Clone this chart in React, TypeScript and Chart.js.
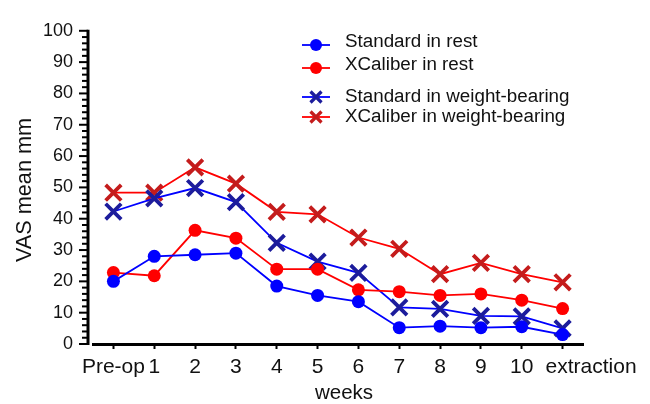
import React, { useEffect, useRef } from 'react';
import { Chart, registerables } from 'chart.js';

Chart.register(...registerables);

const categories = ['Pre-op', '1', '2', '3', '4', '5', '6', '7', '8', '9', '10', 'extraction'];
const standardRest = [20, 28, 28.5, 29, 18.5, 15.5, 13.5, 5.2, 5.7, 5.2, 5.5, 3.0];
const xcaliberRest = [22.8, 21.8, 36.3, 33.8, 23.9, 23.9, 17.3, 16.7, 15.5, 16.0, 14.0, 11.3];
const standardWeight = [42.3, 46.5, 49.8, 45.3, 32.3, 26.3, 22.7, 11.7, 11.2, 9.0, 8.8, 5.0];
const xcaliberWeight = [48.3, 48.3, 56.4, 51.2, 42.2, 41.4, 34.0, 30.4, 22.3, 25.9, 22.3, 19.7];
const seriesLabels = [
  'Standard in rest',
  'XCaliber in rest',
  'Standard in weight-bearing',
  'XCaliber in weight-bearing',
];
const yMin = 0;
const yMax = 100;
const yMajorStep = 10;
const yMinorStep = 2;
const xTitle = 'weeks';
const yTitle = 'VAS mean mm';

const FONT = '"Liberation Sans", Arial, Helvetica, sans-serif';

const axisPlugin = {
  id: 'customAxes',
  afterDraw(chart: any) {
    const ctx = chart.ctx;
    const y = chart.scales.y;
    const x = chart.scales.x;
    const area = chart.chartArea;
    const xLine = area.left - 5;
    ctx.save();
    ctx.strokeStyle = '#000';
    ctx.lineWidth = 3;
    ctx.beginPath();
    ctx.moveTo(xLine, y.getPixelForValue(yMax) - 1);
    ctx.lineTo(xLine, y.getPixelForValue(yMin) + 1);
    ctx.stroke();
    ctx.lineWidth = 2;
    for (let v = yMin; v <= yMax; v += yMinorStep) {
      const py = y.getPixelForValue(v);
      const len = v % yMajorStep === 0 ? 9 : 6;
      ctx.beginPath();
      ctx.moveTo(xLine - len, py);
      ctx.lineTo(xLine, py);
      ctx.stroke();
    }
    ctx.fillStyle = '#111';
    // x tick labels
    ctx.font = `21px ${FONT}`;
    ctx.textBaseline = 'alphabetic';
    const labels = x.getLabels();
    labels.forEach((lab: string, i: number) => {
      const px = x.getPixelForTick(i);
      if (i === labels.length - 1 && labels.length > 1) {
        ctx.textAlign = 'left';
        ctx.fillText(lab, px - 17, 373);
      } else {
        ctx.textAlign = 'center';
        ctx.fillText(lab, px, 373);
      }
    });
    // x title
    ctx.font = `20.5px ${FONT}`;
    ctx.textAlign = 'center';
    ctx.fillText(xTitle, (area.left + area.right) / 2 + 6, 399);
    // y title
    ctx.font = `21.7px ${FONT}`;
    ctx.textAlign = 'center';
    ctx.textBaseline = 'middle';
    ctx.translate(25, 190);
    ctx.rotate(-Math.PI / 2);
    ctx.fillText(yTitle, 0, 0);
    ctx.restore();
  },
};

const legendPlugin = {
  id: 'customLegend',
  afterDraw(chart: any) {
    const ctx = chart.ctx;
    const rows = [
      { ty: 42, my: 45 },
      { ty: 65, my: 68 },
      { ty: 97, my: 97 },
      { ty: 117, my: 117 },
    ];
    ctx.save();
    chart.data.datasets.forEach((ds: any, i: number) => {
      const r = rows[i];
      ctx.strokeStyle = ds.borderColor;
      ctx.lineWidth = 1.8;
      ctx.beginPath();
      ctx.moveTo(302, r.my);
      ctx.lineTo(330, r.my);
      ctx.stroke();
      if (ds.pointStyle === 'circle') {
        ctx.fillStyle = ds.pointBackgroundColor;
        ctx.beginPath();
        ctx.arc(316, r.my, 6, 0, Math.PI * 2);
        ctx.fill();
      } else {
        ctx.strokeStyle = ds.pointBorderColor;
        ctx.lineWidth = 3.2;
        const h = 5.5;
        ctx.beginPath();
        ctx.moveTo(316 - h, r.my - h);
        ctx.lineTo(316 + h, r.my + h);
        ctx.moveTo(316 + h, r.my - h);
        ctx.lineTo(316 - h, r.my + h);
        ctx.stroke();
      }
      ctx.fillStyle = '#111';
      ctx.font = `18.8px ${FONT}`;
      ctx.textAlign = 'left';
      ctx.textBaseline = 'middle';
      ctx.fillText(ds.label, 345, r.ty);
    });
    ctx.restore();
  },
};

export default function App() {
  const canvasRef = useRef<HTMLCanvasElement | null>(null);

  useEffect(() => {
    if (!canvasRef.current) return;
    const circle = (label: string, data: number[], color: string) => ({
      label,
      data,
      borderColor: color,
      backgroundColor: color,
      borderWidth: 1.8,
      pointStyle: 'circle',
      pointRadius: 6.5,
      pointBackgroundColor: color,
      pointBorderColor: color,
      pointBorderWidth: 0,
      tension: 0,
    });
    const cross = (label: string, data: number[], color: string, markColor: string) => ({
      label,
      data,
      borderColor: color,
      backgroundColor: color,
      borderWidth: 1.8,
      pointStyle: 'crossRot',
      pointRadius: 11,
      pointBackgroundColor: markColor,
      pointBorderColor: markColor,
      pointBorderWidth: 3.8,
      tension: 0,
    });
    const chart = new Chart(canvasRef.current, {
      type: 'line',
      data: {
        labels: categories,
        datasets: [
          circle(seriesLabels[0], standardRest, '#0000ff'),
          circle(seriesLabels[1], xcaliberRest, '#ff0000'),
          cross(seriesLabels[2], standardWeight, '#0000ff', '#1c1c9c'),
          cross(seriesLabels[3], xcaliberWeight, '#ff0000', '#c41c1c'),
        ] as any,
      },
      options: {
        animation: false,
        responsive: false,
        maintainAspectRatio: false,
        layout: { padding: { left: 0, right: 67, top: 18, bottom: 0 } },
        plugins: {
          legend: { display: false },
          tooltip: { enabled: false },
        },
        scales: {
          x: {
            type: 'category',
            offset: true,
            grid: {
              drawOnChartArea: false,
              drawTicks: true,
              tickLength: 5,
              tickWidth: 2,
              tickColor: '#000',
              color: '#000',
            },
            border: { display: true, color: '#000', width: 3 },
            ticks: { display: false, autoSkip: false, maxRotation: 0 },
            afterFit: (s: any) => {
              s.height = 60;
            },
          },
          y: {
            min: yMin,
            max: yMax,
            grid: { display: false, drawTicks: false },
            border: { display: false },
            ticks: {
              stepSize: yMajorStep,
              color: '#111',
              font: { family: FONT, size: 18 },
              padding: 20,
            },
            afterFit: (s: any) => {
              s.width = 93;
            },
          },
        },
      },
      plugins: [axisPlugin, legendPlugin],
    });
    return () => chart.destroy();
  }, []);

  return (
    <div style={{ position: 'absolute', left: 0, top: 0, width: 650, height: 404, background: '#fff' }}>
      <canvas ref={canvasRef} width={650} height={404} style={{ display: 'block' }} />
    </div>
  );
}
